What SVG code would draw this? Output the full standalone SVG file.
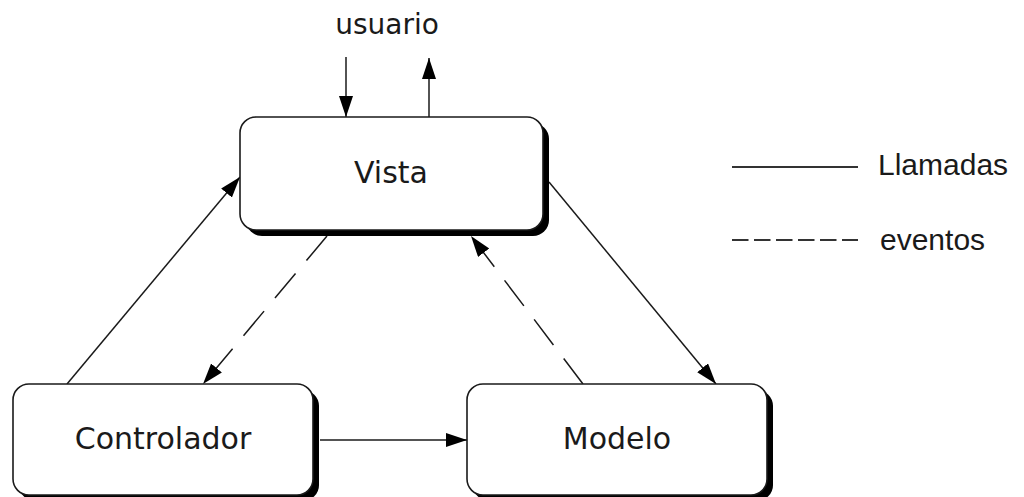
<svg xmlns="http://www.w3.org/2000/svg" width="1024" height="497" viewBox="0 0 1024 497">
  <style>
    .node-text { font-family: "DejaVu Sans", Verdana, sans-serif; font-size: 30px; fill: #1a1a1a; text-anchor: middle; }
    .legend-text { font-family: "Liberation Sans", Arial, sans-serif; font-size: 30px; fill: #1a1a1a; }
    .box { fill: #ffffff; stroke: #1a1a1a; stroke-width: 1.6; }
    .shadow { fill: #000000; }
    .call { fill: none; stroke: #1a1a1a; stroke-width: 1.5; }
    .event { fill: none; stroke: #1a1a1a; stroke-width: 1.5; stroke-dasharray: 32 17; }
    .key { fill: none; stroke: #333333; stroke-width: 2; }
  </style>
  <defs>
    <marker id="arrow" markerUnits="userSpaceOnUse" markerWidth="22" markerHeight="15" refX="21" refY="7" orient="auto">
      <path d="M0,0 L21,7 L0,14 z" fill="#000000"/>
    </marker>
  </defs>

  <rect width="1024" height="497" fill="#ffffff"/>

  <!-- connectors -->
  <g id="connectors">
    <line class="call" x1="346" y1="57" x2="346" y2="117" marker-end="url(#arrow)"/>
    <line class="call" x1="429" y1="117" x2="429" y2="58" marker-end="url(#arrow)"/>
    <line class="call" x1="67" y1="384" x2="240" y2="177" marker-end="url(#arrow)"/>
    <line class="call" x1="549" y1="182" x2="716" y2="384" marker-end="url(#arrow)"/>
    <line class="call" x1="320" y1="440" x2="467" y2="440" marker-end="url(#arrow)"/>
    <line class="event" x1="327" y1="236" x2="203" y2="384" marker-end="url(#arrow)"/>
    <line class="event" x1="583" y1="384" x2="471" y2="236" marker-end="url(#arrow)"/>
  </g>

  <!-- external actor label -->
  <g id="usuario">
    <text class="node-text" x="387" y="34" style="font-size:28px">usuario</text>
  </g>

  <g id="vista">
    <rect class="shadow" x="246" y="123" width="303" height="113" rx="16"/>
    <rect class="box" x="240" y="117" width="303" height="113" rx="16"/>
    <text class="node-text" x="391" y="183">Vista</text>
  </g>

  <g id="controlador">
    <rect class="shadow" x="19" y="390" width="300" height="111" rx="16"/>
    <rect class="box" x="13" y="384" width="300" height="111" rx="16"/>
    <text class="node-text" x="163" y="449">Controlador</text>
  </g>

  <g id="modelo">
    <rect class="shadow" x="473" y="390" width="300" height="111" rx="16"/>
    <rect class="box" x="467" y="384" width="300" height="111" rx="16"/>
    <text class="node-text" x="617" y="449">Modelo</text>
  </g>

  <!-- legend -->
  <g id="legend">
    <line class="key" x1="732" y1="167" x2="858" y2="167"/>
    <text class="legend-text" x="878" y="175">Llamadas</text>
    <line class="key" x1="732" y1="240" x2="858" y2="240" stroke-dasharray="16.5 5.5"/>
    <text class="legend-text" x="880" y="250">eventos</text>
  </g>
</svg>
